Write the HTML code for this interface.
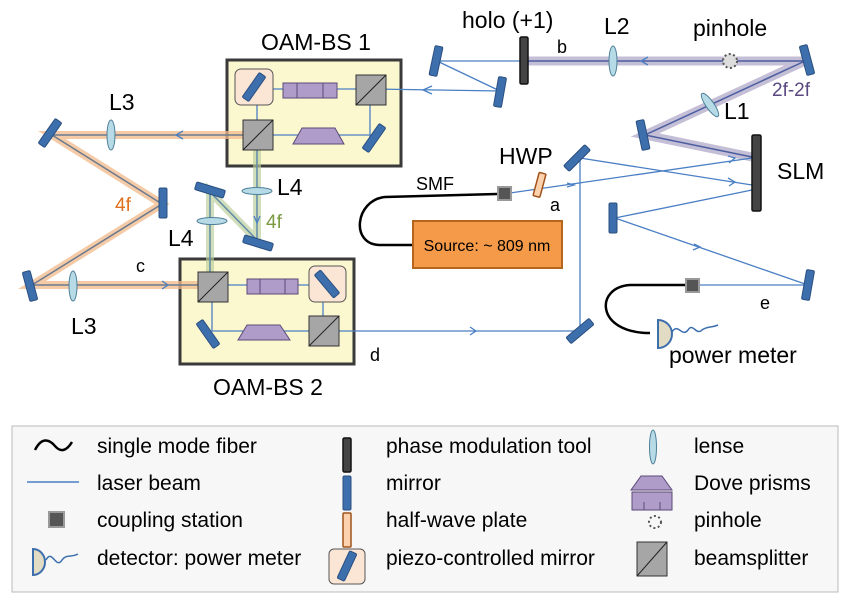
<!DOCTYPE html>
<html><head><meta charset="utf-8"><style>
body{margin:0;background:#fff}
svg{display:block;font-family:"Liberation Sans",sans-serif}
</style></head><body>
<svg width="847" height="603" viewBox="0 0 847 603" xmlns="http://www.w3.org/2000/svg">
<defs>
<g id="m"><rect x="-4" y="-15" width="8" height="30" rx="1.5" fill="#3d6fad" stroke="#2b4f80" stroke-width="1"/></g>
<g id="bs"><rect x="-15" y="-15" width="30" height="30" fill="#a6a6a6" stroke="#333" stroke-width="1"/><line x1="-15" y1="15" x2="15" y2="-15" stroke="#222" stroke-width="1"/></g>
</defs>
<rect x="227" y="60" width="174" height="106" fill="#fbf8d0" stroke="#3a3a3a" stroke-width="3"/>
<rect x="180" y="259" width="174" height="105" fill="#fbf8d0" stroke="#3a3a3a" stroke-width="3"/>
<polyline points="256,135 52,135 162,204 32,285 212,285" fill="none" stroke="#f2b98a" stroke-width="8" stroke-opacity="0.75"/>
<polyline points="256,135 52,135 162,204 32,285 212,285" fill="none" stroke="#6b7a90" stroke-width="1.5"/>
<polyline points="257,150 257,240 210,192 210,285" fill="none" stroke="#b8cc98" stroke-width="8" stroke-opacity="0.65"/>
<polyline points="257,150 257,240 210,192 210,285" fill="none" stroke="#5f8aa8" stroke-width="1.5"/>
<polyline points="528,61 805,61 645,135 752,157" fill="none" stroke="#b0a8c8" stroke-width="9" stroke-opacity="0.75"/>
<polyline points="528,61 805,61 645,135 752,157" fill="none" stroke="#4b5fa0" stroke-width="1.5"/>
<g fill="none" stroke="#4a7fc4" stroke-width="1.3">
<polyline points="257,89 371,89 500,91"/>
<line x1="437" y1="61" x2="520" y2="61"/>
<line x1="437" y1="61" x2="500" y2="91"/>
<polyline points="257,89 257,135 370,135"/>
<line x1="370" y1="89" x2="370" y2="138"/>
<polyline points="212,285 323,285 323,331"/>
<polyline points="212,285 212,331 580,331"/>
<line x1="580" y1="160" x2="580" y2="331"/>
<line x1="580" y1="158" x2="752" y2="185"/>
<line x1="510" y1="193" x2="752" y2="158"/>
<polyline points="752,190 615,218 808,285 698,285"/>
<polyline points="432,86 423,90 432,94"/>
<polyline points="183,131 176,135 183,139"/>
<polyline points="162,281 168,285 162,289"/>
<polyline points="254,216 257,223 260,216"/>
<polyline points="470,327 476,331 470,335"/>
<polyline points="648,57 641,61 648,65"/>
<polyline points="567,183 574,185 567,187"/>
<polyline points="728,178 735,182 729,186"/>
<polyline points="728,156 735,158 729,163"/>
<polyline points="694,244 700,247 693,250"/>
</g>
<rect x="235" y="69" width="38" height="36" rx="6" fill="#fbe6d6" stroke="#555" stroke-width="1"/>
<use href="#m" transform="translate(254,87) rotate(35)"/>
<rect x="283" y="83" width="54" height="15" fill="#b09cc8" stroke="#5b4a7a"/>
<line x1="297" y1="83" x2="297" y2="98" stroke="#5b4a7a"/><line x1="323" y1="83" x2="323" y2="98" stroke="#5b4a7a"/>
<use href="#bs" transform="translate(371,90)"/>
<use href="#bs" transform="translate(258,135)"/>
<polygon points="302,128 335,128 344,144 293,144" fill="#b09cc8" stroke="#5b4a7a"/>
<use href="#m" transform="translate(374,138) rotate(35)"/>
<use href="#bs" transform="translate(213,287)"/>
<rect x="247" y="279" width="51" height="15" fill="#b09cc8" stroke="#5b4a7a"/>
<line x1="260" y1="279" x2="260" y2="294" stroke="#5b4a7a"/><line x1="285" y1="279" x2="285" y2="294" stroke="#5b4a7a"/>
<rect x="309" y="266" width="37" height="36" rx="6" fill="#fbe6d6" stroke="#555" stroke-width="1"/>
<use href="#m" transform="translate(327,284) rotate(-40)"/>
<use href="#m" transform="translate(208,334) rotate(-35)"/>
<polygon points="247,325 280,325 290,340 238,340" fill="#b09cc8" stroke="#5b4a7a"/>
<use href="#bs" transform="translate(324,331)"/>
<use href="#m" transform="translate(50,133) rotate(35)"/>
<use href="#m" transform="translate(163,203)"/>
<use href="#m" transform="translate(30,286) rotate(-15)"/>
<use href="#m" transform="translate(210,190) rotate(-73)"/>
<use href="#m" transform="translate(258,243) rotate(-73)"/>
<g fill="#b6dbe6" stroke="#4f7f99" stroke-width="1">
<ellipse cx="111" cy="135" rx="4" ry="15"/>
<ellipse cx="73" cy="286" rx="4" ry="15"/>
<ellipse cx="257" cy="191" rx="15" ry="3.5"/>
<ellipse cx="212" cy="221" rx="15" ry="3.5"/>
<ellipse cx="613" cy="61" rx="4" ry="15"/>
<ellipse cx="710" cy="105" rx="4" ry="14" transform="rotate(-35 710 105)"/>
</g>
<use href="#m" transform="translate(436,61) rotate(12)"/>
<use href="#m" transform="translate(500,92) rotate(10)"/>
<rect x="520" y="37" width="8" height="47" rx="1.5" fill="#444" stroke="#111" stroke-width="1.5"/>
<circle cx="730" cy="61" r="7" fill="#ddd" stroke="#555" stroke-width="2" stroke-dasharray="2,2.5"/>
<use href="#m" transform="translate(807,60) rotate(-15)"/>
<use href="#m" transform="translate(643,135) rotate(-12)"/>
<rect x="752" y="135" width="9" height="76" rx="1.5" fill="#444" stroke="#111" stroke-width="1.5"/>
<use href="#m" transform="translate(577,158) rotate(45)"/>
<use href="#m" transform="translate(613,218)"/>
<use href="#m" transform="translate(808,285) rotate(10)"/>
<use href="#m" transform="translate(580,331) rotate(50)"/>
<rect x="536" y="173" width="7" height="24" rx="1" fill="#fcd2ae" stroke="#a0521a" stroke-width="1.5" transform="rotate(15 540 185)"/>
<path d="M497,194 L385,197 C355,200 350,245 380,245 L413,245" fill="none" stroke="#000" stroke-width="2.5"/>
<path d="M686,285 L630,285 C595,287 595,333 650,333" fill="none" stroke="#000" stroke-width="2.5"/>
<rect x="498" y="187" width="13" height="13" fill="#555" stroke="#999" stroke-width="2"/>
<rect x="686" y="279" width="13" height="13" fill="#555" stroke="#999" stroke-width="2"/>
<path d="M658,320 A14,14 0 0 1 658,348 Z" fill="#e2dcc4" stroke="#3d6fad" stroke-width="2"/>
<path d="M672,332 C678,322 682,338 688,330 C693,322 696,336 702,330 C707,326 711,328 718,325" fill="none" stroke="#3d6fad" stroke-width="1.5"/>
<rect x="413" y="221" width="149" height="47" fill="#f59a48" stroke="#b5651d" stroke-width="2"/>
<g font-size="23" fill="#000">
<text x="316" y="50" text-anchor="middle">OAM-BS 1</text>
<text x="268" y="395" text-anchor="middle">OAM-BS 2</text>
<text x="462" y="28">holo (+1)</text>
<text x="604" y="34">L2</text>
<text x="693" y="36">pinhole</text>
<text x="109" y="110">L3</text>
<text x="71" y="334">L3</text>
<text x="277" y="195">L4</text>
<text x="168" y="246">L4</text>
<text x="724" y="119">L1</text>
<text x="777" y="179">SLM</text>
<text x="499" y="164">HWP</text>
<text x="669" y="363">power meter</text>
</g>
<g font-size="18" fill="#000">
<text x="557" y="53">b</text>
<text x="136" y="272">c</text>
<text x="370" y="361">d</text>
<text x="550" y="211">a</text>
<text x="760" y="309">e</text>
<text x="416" y="190">SMF</text>
<text x="487" y="251" text-anchor="middle" font-size="16">Source: ~ 809 nm</text>
</g>
<text x="115" y="211" font-size="19" fill="#e07020">4f</text>
<text x="266" y="228" font-size="19" fill="#7a9a40">4f</text>
<text x="772" y="96" font-size="19" fill="#5a4880">2f-2f</text>
<rect x="12" y="426" width="826" height="166" fill="#f7f7f7" stroke="#bbb" stroke-width="1"/>
<g font-size="21" fill="#000">
<text x="97" y="453">single mode fiber</text>
<text x="97" y="490">laser beam</text>
<text x="97" y="527">coupling station</text>
<text x="97" y="565">detector: power meter</text>
<text x="386" y="453">phase modulation tool</text>
<text x="386" y="490">mirror</text>
<text x="386" y="527">half-wave plate</text>
<text x="386" y="565">piezo-controlled mirror</text>
<text x="694" y="453">lense</text>
<text x="694" y="490">Dove prisms</text>
<text x="694" y="527">pinhole</text>
<text x="694" y="565">beamsplitter</text>
</g>
<path d="M35,450 C42,436 50,440 55,446 C60,452 66,452 72,442" fill="none" stroke="#000" stroke-width="2.5"/>
<line x1="27" y1="482" x2="79" y2="482" stroke="#4a7fc4" stroke-width="1.5"/>
<rect x="49" y="512" width="15" height="15" fill="#555" stroke="#999" stroke-width="2"/>
<path d="M33,549 A12,13 0 0 1 33,575 Z" fill="#e2dcc4" stroke="#3d6fad" stroke-width="2"/>
<path d="M46,560 C52,548 56,570 62,560 C66,554 70,558 78,554" fill="none" stroke="#3d6fad" stroke-width="1.5"/>
<rect x="343" y="438" width="8" height="34" rx="1.5" fill="#444" stroke="#111" stroke-width="1.5"/>
<rect x="343" y="476" width="8" height="34" rx="1.5" fill="#3d6fad" stroke="#2b4f80"/>
<rect x="343" y="513" width="8" height="34" rx="1" fill="#fcd2ae" stroke="#a0521a" stroke-width="1.5"/>
<rect x="329" y="549" width="36" height="35" rx="5" fill="#fbe6d6" stroke="#555"/>
<use href="#m" transform="translate(347,566) rotate(25)"/>
<ellipse cx="653" cy="447" rx="3.5" ry="17" fill="#b6dbe6" stroke="#4f7f99"/>
<polygon points="641,476 662,476 672,490 631,490" fill="#b09cc8" stroke="#5b4a7a"/>
<rect x="632" y="492" width="40" height="18" fill="#b09cc8" stroke="#5b4a7a"/>
<line x1="644" y1="502" x2="644" y2="510" stroke="#5b4a7a"/><line x1="660" y1="502" x2="660" y2="510" stroke="#5b4a7a"/>
<circle cx="655" cy="522" r="6" fill="none" stroke="#555" stroke-width="2" stroke-dasharray="2,2.5"/>
<rect x="637" y="542" width="30" height="34" fill="#a6a6a6" stroke="#333"/>
<line x1="637" y1="576" x2="667" y2="542" stroke="#222"/>
</svg>
</body></html>
